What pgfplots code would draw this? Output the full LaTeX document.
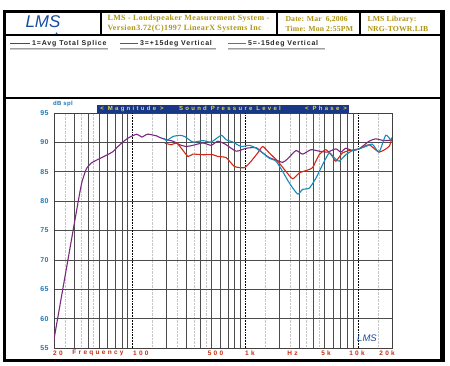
\documentclass[border=0pt]{standalone}
\usepackage{fontspec}
\setmainfont{Liberation Serif}
\setsansfont{Liberation Sans}
\newfontfamily\hdr[LetterSpace=5]{Liberation Serif}
\newfontfamily\hdrb[LetterSpace=2]{Liberation Serif}
\newfontfamily\lgf[LetterSpace=12]{Liberation Sans}
\newfontfamily\bnf[LetterSpace=38]{Liberation Sans}
\newfontfamily\xlf[LetterSpace=35]{Liberation Sans}
\newfontfamily\tkf[LetterSpace=6]{Liberation Sans}
\usepackage{pgfplots}
\pgfplotsset{compat=1.18}
\definecolor{cPurple}{RGB}{122,42,128}
\definecolor{cRed}{RGB}{212,40,20}
\definecolor{cBlue}{RGB}{20,140,185}
\definecolor{tickblue}{RGB}{30,120,185}
\definecolor{xlabred}{RGB}{200,45,20}
\definecolor{gold}{RGB}{175,150,20}
\definecolor{navy}{RGB}{25,55,135}
\definecolor{bannertext}{RGB}{235,215,60}
\definecolor{logoblue}{RGB}{25,75,160}
\begin{document}
\begin{tikzpicture}[x=1pt,y=1pt]
\path[use as bounding box] (0,0) rectangle (450,365);
\fill[white] (0,0) rectangle (450,365);
% frame
\draw[line width=3pt] (4.5,5) rectangle (441,353.5);
\fill[black] (439.5,3.5) rectangle (445,355);
\draw[line width=1.5pt] (4.5,330) -- (441,330);
\draw[line width=1.5pt] (4.5,267) -- (441,267);
\draw[line width=1.2pt] (101,330) -- (101,353.5);
\draw[line width=1.2pt] (277,330) -- (277,353.5);
\draw[line width=1.2pt] (360,330) -- (360,353.5);
% header
\node[text=logoblue, font=\sffamily\itshape\fontsize{17}{17}\selectfont] at (43,343) {LMS};
\fill[logoblue] (56.5,331.5) circle (1pt);
\node[text=gold, font=\hdr\bfseries\fontsize{8}{10}\selectfont, align=left, anchor=west] at (104,341.5) {LMS - Loudspeaker Measurement System -\\Version3.72(C)1997 LinearX Systems Inc};
\node[text=gold, font=\hdrb\bfseries\fontsize{7.7}{10}\selectfont, align=left, anchor=west] at (282,341.5) {Date: Mar \ 6,2006\\Time: Mon 2:55PM};
\node[text=gold, font=\hdrb\bfseries\fontsize{7.7}{10}\selectfont, align=left, anchor=west] at (364,341.5) {LMS Library:\\NRG-TOWR.LIB};
% legend
\draw[cPurple, line width=1pt] (10,321.5) -- (30,321.5);
\node[anchor=west, inner sep=0pt, font=\lgf\bfseries\fontsize{7}{8}\selectfont, text=black!85] at (32,321.5) {1=Avg Total Splice};
\draw[gray!75, line width=0.9pt] (10,316.6) -- (108,316.6);
\draw[gray!40, line width=0.6pt] (10,315.4) -- (108,315.4);
\draw[cRed, line width=1pt] (120,321.5) -- (138,321.5);
\node[anchor=west, inner sep=0pt, font=\lgf\bfseries\fontsize{7}{8}\selectfont, text=black!85] at (140,321.5) {3=+15deg Vertical};
\draw[gray!75, line width=0.9pt] (120,316.6) -- (216,316.6);
\draw[gray!40, line width=0.6pt] (120,315.4) -- (216,315.4);
\draw[cBlue, line width=1pt] (228,321.5) -- (246,321.5);
\node[anchor=west, inner sep=0pt, font=\lgf\bfseries\fontsize{7}{8}\selectfont, text=black!85] at (248,321.5) {5=-15deg Vertical};
\draw[gray!75, line width=0.9pt] (228,316.6) -- (325,316.6);
\draw[gray!40, line width=0.6pt] (228,315.4) -- (325,315.4);
% panel labels
\node[text=tickblue, font=\tkf\bfseries\fontsize{6}{7}\selectfont] at (63,261.5) {dB spl};
\fill[navy] (97,252.5) rectangle (349,260);
\node[text=bannertext, font=\bnf\bfseries\fontsize{6}{6}\selectfont, inner sep=0pt] at (132,256.3) {< Magnitude >};
\node[text=bannertext, font=\bnf\bfseries\fontsize{6}{6}\selectfont, inner sep=0pt] at (230,256.3) {Sound Pressure Level};
\node[text=bannertext, font=\bnf\bfseries\fontsize{6}{6}\selectfont, inner sep=0pt] at (326,256.3) {< Phase >};
% x labels
\begin{scope}[every node/.style={text=xlabred, font=\xlf\bfseries\fontsize{6.5}{7}\selectfont, inner sep=0pt}]
\node[anchor=west] at (53,12) {20};
\node at (98,12) {Frequency};
\node[anchor=west] at (133,12) {100};
\node at (215.5,12) {500};
\node[anchor=west] at (245,12) {1k};
\node at (292.5,12) {Hz};
\node at (326,12) {5k};
\node at (357,12) {10k};
\node[anchor=east] at (395,12) {20k};
\end{scope}
\begin{axis}[at={(54pt,17pt)}, anchor=south west, scale only axis,
  width=338pt, height=235pt,
  xmode=log, xmin=20, xmax=20000, ymin=55, ymax=95,
  xtick={30,40,50,60,70,80,90,200,300,400,500,600,700,800,900,2000,3000,4000,5000,6000,7000,8000,9000},
  xticklabels={},
  minor xtick={25,35,45,150,250,350,450,1500,2500,3500,4500,15000},
  extra x ticks={100,1000,10000}, extra x tick labels={},
  extra x tick style={grid=major, major grid style={black, densely dotted, line width=0.9pt}},
  ytick={55,60,65,70,75,80,85,90,95},
  xmajorgrids, ymajorgrids, xminorgrids,
  major grid style={gray!60!black, line width=0.55pt},
  minor grid style={gray!45, densely dotted, line width=0.6pt},
  tick style={draw=none},
  axis line style={gray!50!black, line width=0.6pt},
  /pgf/number format/assume math mode=true,
  yticklabel style={font=\tkf\bfseries\fontsize{7}{8}\selectfont, text=tickblue, xshift=-2pt},
]
\addplot[cPurple, line width=1.1pt, smooth, tension=0.35] coordinates {
(20,56.5) (33.7,81.2) (36.4,84.0) (39,85.6) (43,86.5) (47.9,87.0) (58.9,87.85) (66.5,88.4) (73,89.2) (81.2,90.0) (90.3,90.7) (108.7,91.4) (120,90.9) (135.6,91.4) (163,91.1) (173,90.85) (199,90.45) (228,90.2) (261,89.6) (299,89.3) (342,89.5) (419,89.9) (497,89.5) (569,90.2) (675,89.6) (827,88.5) (1014,89.0) (1243,89.1) (1424,88.2) (1631,87.4) (1868,87.0) (2140,86.6) (2370,87.2) (2810,88.6) (3218,88.0) (3812,88.75) (4519,88.5) (5354,88.35) (6346,88.9) (7026,88.35) (7780,89.0) (8914,88.6) (10210,88.9) (12520,90.2) (14340,90.6) (16990,90.3) (20000,90.4)
};
\addplot[cRed, line width=1.1pt, smooth, tension=0.35] coordinates {
(192,89.9) (220,89.6) (244,89.9) (270,89.0) (309,87.6) (342,88.0) (419,87.9) (514,87.9) (569,87.6) (675,87.4) (800,85.9) (980,85.7) (1123,86.8) (1286,88.2) (1424,89.3) (1631,88.2) (1933,86.8) (2291,85.05) (2625,83.8) (3006,84.8) (3563,85.3) (3945,85.7) (4519,87.9) (5176,88.75) (5929,87.6) (6346,86.8) (7270,88.2) (8328,88.6) (10210,88.9) (12520,89.6) (15350,88.35) (18820,89.3) (20000,90.8)
};
\addplot[cBlue, line width=1.1pt, smooth, tension=0.35] coordinates {
(190,90.7) (199,90.3) (228,91.0) (261,91.2) (289,91.0) (342,90.06) (419,90.3) (497,90.06) (609,91.2) (675,90.45) (773,90.06) (916,89.3) (1085,89.5) (1243,89.0) (1424,88.2) (1631,87.3) (1868,86.8) (2140,85.05) (2452,83.1) (2906,81.2) (3218,82.0) (3686,82.2) (4222,83.9) (4836,86.2) (5540,88.2) (6134,87.4) (6792,86.8) (7780,87.9) (8914,88.6) (10210,88.9) (11700,89.3) (13400,89.7) (15350,88.35) (17580,91.2) (19460,90.45) (20000,90.8)
};
\end{axis}
\node[text=logoblue, font=\sffamily\itshape\fontsize{9.5}{9.5}\selectfont] at (367,27) {LMS};
\end{tikzpicture}
\end{document}
